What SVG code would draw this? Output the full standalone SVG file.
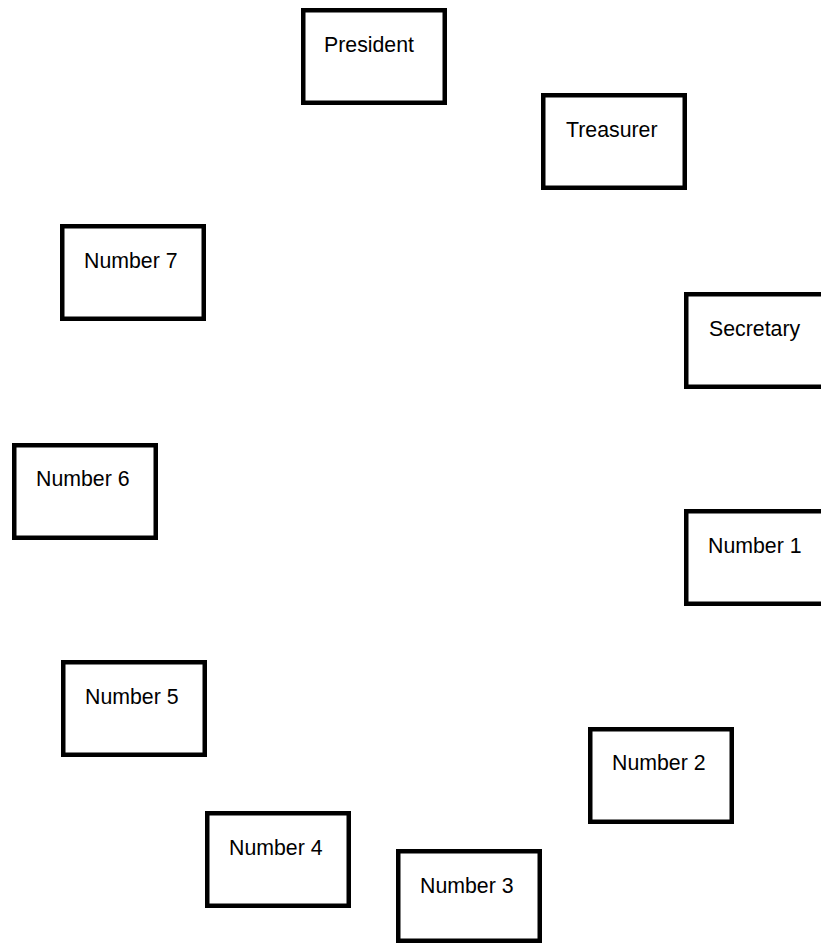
<svg xmlns="http://www.w3.org/2000/svg" width="821" height="945" viewBox="0 0 821 945">
<style>
.box{fill:#ffffff;stroke:#000000;stroke-width:4.5}
.lbl{font-family:"Liberation Sans",Arial,sans-serif;font-size:21.3px;fill:#000000}
</style>
<rect width="821" height="945" fill="#ffffff"/>
<g id="connectors"></g>
<g id="president"><rect class="box" x="303.25" y="10.25" width="141.5" height="92.5"/><text class="lbl" x="324" y="52">President</text></g>
<g id="treasurer"><rect class="box" x="543.25" y="95.25" width="141.5" height="92.5"/><text class="lbl" x="566" y="137">Treasurer</text></g>
<g id="secretary"><rect class="box" x="686.25" y="294.25" width="141.5" height="92.5"/><text class="lbl" x="709" y="336">Secretary</text></g>
<g id="number7"><rect class="box" x="62.25" y="226.25" width="141.5" height="92.5"/><text class="lbl" x="84" y="268">Number 7</text></g>
<g id="number6"><rect class="box" x="14.25" y="445.25" width="141.5" height="92.5"/><text class="lbl" x="36" y="486">Number 6</text></g>
<g id="number1"><rect class="box" x="686.25" y="511.25" width="141.5" height="92.5"/><text class="lbl" x="708" y="553">Number 1</text></g>
<g id="number5"><rect class="box" x="63.25" y="662.25" width="141.5" height="92.5"/><text class="lbl" x="85" y="704">Number 5</text></g>
<g id="number2"><rect class="box" x="590.25" y="729.25" width="141.5" height="92.5"/><text class="lbl" x="612" y="770">Number 2</text></g>
<g id="number4"><rect class="box" x="207.25" y="813.25" width="141.5" height="92.5"/><text class="lbl" x="229" y="855">Number 4</text></g>
<g id="number3"><rect class="box" x="398.25" y="851.25" width="141.5" height="89.5"/><text class="lbl" x="420" y="893">Number 3</text></g>
</svg>
